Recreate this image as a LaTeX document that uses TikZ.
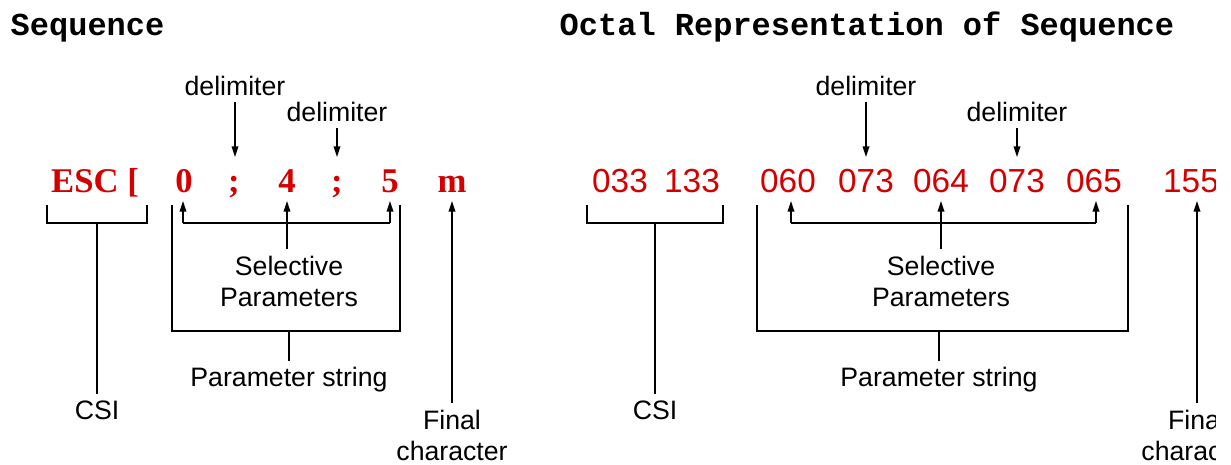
\documentclass[tikz,border=0pt]{standalone}
\usepackage{fontspec}
\setmainfont{Liberation Sans}
\newfontfamily\titlefont{Liberation Mono}
\newfontfamily\seqserif{Liberation Serif}
\usetikzlibrary{arrows.meta}
\definecolor{seqred}{RGB}{212,0,0}

\tikzset{
    title/.style={font=\titlefont\bfseries\fontsize{24}{28}\selectfont, anchor=base west, inner sep=0pt},
    seqchar/.style={font=\seqserif\bfseries\fontsize{26}{30}\selectfont, text=seqred, anchor=base, inner sep=0pt},
    octchar/.style={font=\fontsize{25}{30}\selectfont, text=seqred, anchor=base, inner sep=0pt},
    lbl/.style={font=\fontsize{20}{23.25}\selectfont, align=center, inner sep=2pt, outer sep=3pt},
    tip/.style={-{Triangle[length=8pt,width=5pt]}},
}

\begin{document}
\begin{tikzpicture}[x=0.75pt, y=-0.75pt, line width=1.1pt]
    % Page size (pixels of the reference), content cut at the right
    \useasboundingbox (0,0) rectangle (1231,464);
    \clip (0,0) rectangle (1215,464);

    % Helper levels
    \coordinate (top) at (0,201);    % arrow tips below the characters
    \coordinate (brtop) at (0,205);  % top of the brackets
    \coordinate (dtip) at (0,157);   % tips of the delimiter arrows

    % Titles
    \node[title] (tseq) at (10,35) {Sequence};
    \node[title] (toct) at (559,35) {Octal Representation of Sequence};

    %%%%%%%%%%%%%%%% Sequence %%%%%%%%%%%%%%%%
    \node[seqchar] (esc) at (95,192) {ESC [};
    \foreach \name/\x/\t in {p0/184/0, d1/234/{;}, p4/287/4, d2/337/{;}, p5/390/5, fin/452/m}
        \node[seqchar] (\name) at (\x,192) {\t};

    % Delimiters
    \node[lbl] (dla) at (235,86) {delimiter};
    \node[lbl] (dlb) at (337,112) {delimiter};
    \draw[tip] (dla) -- (dla |- dtip);
    \draw[tip] (dlb) -- (dlb |- dtip);

    % CSI
    \coordinate (csiL) at (47,223);
    \coordinate (csiR) at (147,223);
    \node[lbl] (csi) at (97,410) {CSI};
    \draw (csiL |- brtop) -- (csiL) -- (csiR) -- (csiR |- brtop);
    \draw (csi) -- (csi |- csiL);

    % Selective parameters
    \coordinate (selL) at (183,223);
    \coordinate (selM) at (287,223);
    \coordinate (selR) at (390,223);
    \node[lbl] (sel) at (289,281) {Selective\\Parameters};
    \draw (selL) -- (selR);
    \draw[tip] (selL) -- (selL |- top);
    \draw[tip] (selM) -- (selM |- top);
    \draw[tip] (selR) -- (selR |- top);
    \draw (sel.north -| selM) -- (selM);

    % Parameter string
    \coordinate (parL) at (172,331);
    \coordinate (parR) at (400,331);
    \node[lbl] (pstr) at (289,380) {Parameter string};
    \draw (parL |- brtop) -- (parL) -- (parR) -- (parR |- brtop);
    \draw (pstr) -- (pstr |- parL);

    % Final character
    \node[lbl] (final) at (452,435) {Final\\character};
    \draw[tip] (final) -- (final |- top);

    %%%%%%%%%%%%%%%% Octal %%%%%%%%%%%%%%%%
    \foreach \name/\x/\t in {o033/620/033, o133/692/133, o060/788/060, o073a/866/073,
                             o064/941/064, o073b/1017/073, o065/1094/065, o155/1191/155}
        \node[octchar] (\name) at (\x,192) {\t};

    % Delimiters
    \node[lbl] (odla) at (866,86) {delimiter};
    \node[lbl] (odlb) at (1017,112) {delimiter};
    \draw[tip] (odla) -- (odla |- dtip);
    \draw[tip] (odlb) -- (odlb |- dtip);

    % CSI
    \coordinate (ocsiL) at (587,223);
    \coordinate (ocsiR) at (723,223);
    \node[lbl] (ocsi) at (655,410) {CSI};
    \draw (ocsiL |- brtop) -- (ocsiL) -- (ocsiR) -- (ocsiR |- brtop);
    \draw (ocsi) -- (ocsi |- ocsiL);

    % Selective parameters
    \coordinate (oselL) at (791,223);
    \coordinate (oselM) at (941,223);
    \coordinate (oselR) at (1096,223);
    \node[lbl] (osel) at (941,281) {Selective\\Parameters};
    \draw (oselL) -- (oselR);
    \draw[tip] (oselL) -- (oselL |- top);
    \draw[tip] (oselM) -- (oselM |- top);
    \draw[tip] (oselR) -- (oselR |- top);
    \draw (osel.north -| oselM) -- (oselM);

    % Parameter string
    \coordinate (oparL) at (757,331);
    \coordinate (oparR) at (1128,331);
    \node[lbl] (opstr) at (939,380) {Parameter string};
    \draw (oparL |- brtop) -- (oparL) -- (oparR) -- (oparR |- brtop);
    \draw (opstr) -- (opstr |- oparL);

    % Final character
    \node[lbl] (ofinal) at (1197,435) {Final\\character};
    \draw[tip] (ofinal) -- (ofinal |- top);
\end{tikzpicture}
\end{document}
